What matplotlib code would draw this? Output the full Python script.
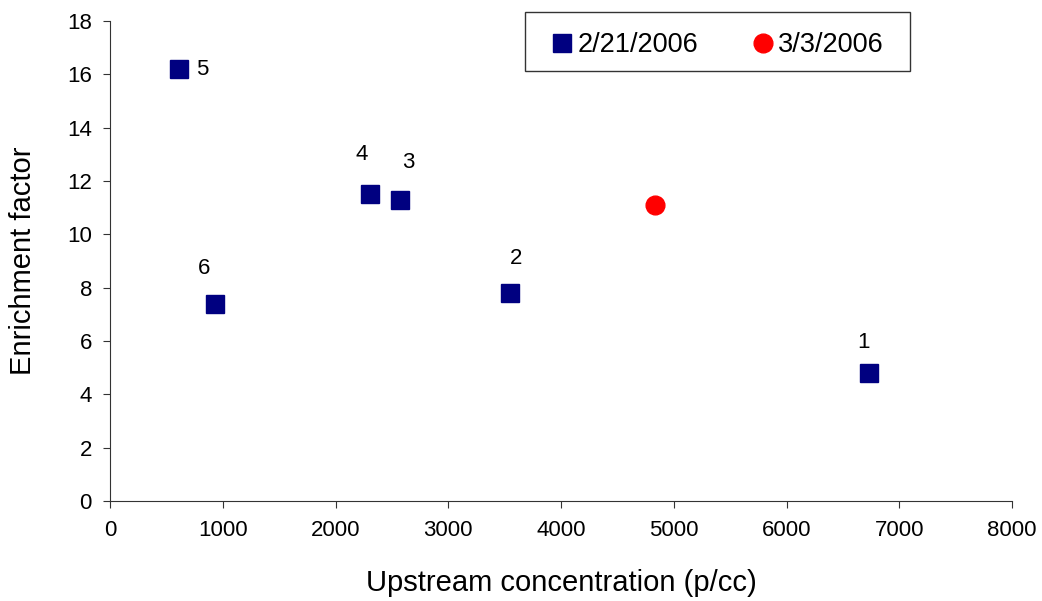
import matplotlib.pyplot as plt
from matplotlib.patches import Rectangle

plt.rcParams['font.family'] = ['Liberation Sans', 'DejaVu Sans']

# data
x_feb = [6730, 3550, 2570, 2310, 610, 935]
y_feb = [4.8, 7.8, 11.3, 11.5, 16.2, 7.4]
labels_feb = ['1', '2', '3', '4', '5', '6']
# label offsets in points (dx, dy)
label_off = [(-4, 22), (4, 24.5), (6, 26.5), (-6, 28.5), (17, -0.5), (-8, 25)]

x_mar = [4830]
y_mar = [11.1]

fig = plt.figure(figsize=(10.42, 6.01), dpi=100)
ax = fig.add_axes([110/1042, 1 - 501/601, 902/1042, 480/601])

ax.plot(x_feb, y_feb, 's', color='#000080', markersize=13.5, label='2/21/2006', linestyle='none')
ax.plot(x_mar, y_mar, 'o', color='#ff0000', markersize=13.5, label='3/3/2006', linestyle='none')

for xv, yv, lab, (dx, dy) in zip(x_feb, y_feb, labels_feb, label_off):
    ax.annotate(lab, (xv, yv), xytext=(dx, dy), textcoords='offset points',
                ha='center', va='center', fontsize=16)

ax.set_xlim(0, 8000)
ax.set_ylim(0, 18)
ax.set_xticks(range(0, 8001, 1000))
ax.set_yticks(range(0, 19, 2))
ax.tick_params(direction='out', length=5, labelsize=16, color='#333333')
ax.tick_params(axis='x', pad=9)
ax.tick_params(axis='y', pad=8)
ax.spines['top'].set_visible(False)
ax.spines['right'].set_visible(False)
ax.spines['left'].set_color('#333333')
ax.spines['bottom'].set_color('#333333')

ax.set_xlabel('Upstream concentration (p/cc)', fontsize=21, labelpad=20)
ax.set_ylabel('Enrichment factor', fontsize=21, labelpad=22)

# legend box drawn separately so its padding can match the original
box = Rectangle((415/902, 430/480), 385/902, 59/480, transform=ax.transAxes,
                facecolor='white', edgecolor='#333333', linewidth=1, clip_on=False, zorder=4)
ax.add_patch(box)
leg = ax.legend(loc='center left', bbox_to_anchor=(428/902, 456/480), ncol=2, fontsize=19.5,
                frameon=False, handletextpad=-0.35, columnspacing=1.5, borderpad=0,
                borderaxespad=0, handlelength=1.8)
leg.set_zorder(5)

fig.savefig('out.png', dpi=100)
